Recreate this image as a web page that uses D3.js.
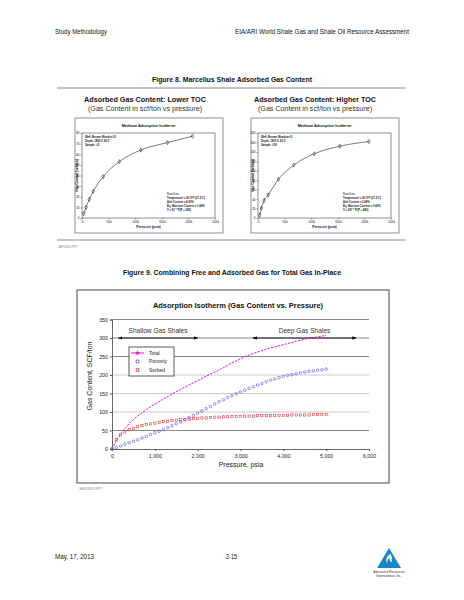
<!DOCTYPE html>
<html>
<head>
<meta charset="utf-8">
<script src="https://cdn.jsdelivr.net/npm/d3@7"></script>
<style>
  body { margin: 0; background: #fff; }
  svg { display: block; font-family: "Liberation Sans", Arial, sans-serif; }
</style>
</head>
<body>
<div id="chartgoeshere"></div>
<script>
// ---------- Figure 8 data (two measured isotherms) ----------
var lowTocPressure = [31, 75, 137, 212, 400, 700, 1106, 1606, 2075];
var lowTocContent = [4, 10, 17.5, 25, 39, 53, 64, 71, 77];
var highTocPressure = [32, 64, 115, 192, 385, 673, 1058, 1538, 2083];
var highTocContent = [6, 21, 37, 49, 82, 112, 136, 152, 162];
var smallXTicks = [0, 500, 1000, 1500, 2000, 2500];
var lowYTicks = [0, 10, 20, 30, 40, 50, 60, 70, 80];
var highYTicks = [0, 20, 40, 60, 80, 100, 120, 140, 160, 180];

// ---------- Figure 9 data (gas content vs pressure) ----------
var pressure = [0, 100, 200, 300, 400, 500, 600, 700, 800, 900,
  1000, 1100, 1200, 1300, 1400, 1500, 1600, 1700, 1800, 1900,
  2000, 2100, 2200, 2300, 2400, 2500, 2600, 2700, 2800, 2900,
  3000, 3100, 3200, 3300, 3400, 3500, 3600, 3700, 3800, 3900,
  4000, 4100, 4200, 4300, 4400, 4500, 4600, 4700, 4800, 4900, 5000];
var total = [0, 22, 40, 55, 68, 80, 89, 98, 106, 114,
  121, 128, 135, 142, 148, 155, 161, 167, 173, 179,
  185, 191, 197, 203, 208, 214, 220, 226, 233, 238,
  244, 249, 254, 258, 262, 266, 270, 273, 276, 279,
  282, 285, 288, 291, 294, 297, 299, 301, 303, 305, 307];
var porosity = [0, 4, 8, 13, 17, 21, 25, 30, 34, 39,
  44, 48, 53, 58, 63, 68, 73, 79, 85, 91,
  97, 103, 109, 115, 122, 128, 133, 139, 144, 149,
  154, 159, 164, 168, 173, 177, 182, 186, 189, 193,
  196, 199, 201, 203, 206, 208, 210, 211, 213, 214, 216];
var sorbed = [0, 25, 38, 46, 52, 56, 60, 63, 66, 68,
  70, 72, 74, 75, 77, 78, 79, 80, 81, 82,
  83, 84, 84, 85, 86, 86, 87, 87, 88, 88,
  88, 89, 89, 89, 90, 90, 90, 90, 91, 91,
  91, 91, 92, 92, 92, 92, 92, 93, 93, 93, 93];
var xTicks = [0, 1000, 2000, 3000, 4000, 5000, 6000];
var yTicks = [0, 50, 100, 150, 200, 250, 300, 350];
var zoneLabels = ["Shallow Gas Shales", "Deep Gas Shales"];
var zoneStart = [150, 3290];
var zoneEnd = [2000, 5700];
var zoneLevel = 300;
var legendLabels = ["Total", "Porosity", "Sorbed"];

var svg = d3.select("#chartgoeshere")
  .append("svg")
  .attr("width", 464)
  .attr("height", 600);

// helper for plain text
function label(x, y, txt, size, opts) {
  opts = opts || {};
  var t = svg.append("text")
    .attr("x", x)
    .attr("y", y)
    .attr("font-size", size)
    .attr("fill", opts.fill || "#111")
    .attr("font-weight", opts.bold ? "bold" : null)
    .attr("text-anchor", opts.anchor || "start")
    .text(txt);
  if (opts.len) t.attr("textLength", opts.len).attr("lengthAdjust", "spacingAndGlyphs");
  return t;
}

// ---------- page header ----------
label(55, 34, "Study Methodology", 6.5, { len: 52 });
label(235, 34, "EIA/ARI World Shale Gas and Shale Oil Resource Assessment", 6.5, { len: 174 });

// ---------- Figure 8 ----------
label(232, 82, "Figure 8.  Marcellus Shale Adsorbed Gas Content", 7, { bold: true, anchor: "middle", len: 160 });
[88, 240].forEach(function (yy) {
  svg.append("line")
    .attr("x1", 57).attr("x2", 405)
    .attr("y1", yy).attr("y2", yy)
    .attr("stroke", "#b0b0b0")
    .attr("stroke-width", 1.3);
});
label(58, 248, "JAF0830.PPT", 3.2, { fill: "#888" });

function isothermPanel(cx, boxX, title, info, rawInfo, pData, vData, yTickVals, yMax) {
  label(cx, 102, "Adsorbed Gas Content: " + title, 8, { bold: true, anchor: "middle", len: 122 });
  label(cx, 111, "(Gas Content in scf/ton vs pressure)", 7, { anchor: "middle", len: 114, fill: "#333" });

  var box = { x: boxX, y: 118, w: 148, h: 115 };
  svg.append("rect")
    .attr("x", box.x).attr("y", box.y)
    .attr("width", box.w).attr("height", box.h)
    .attr("fill", "#fff")
    .attr("stroke", "#444")
    .attr("stroke-width", 0.6);

  var px0 = box.x + 7, px1 = box.x + 140, py0 = 218, py1 = 133;
  var sx = d3.scaleLinear().domain([0, 2500]).range([px0, px1]);
  var sy = d3.scaleLinear().domain([0, yMax]).range([py0, py1]);

  label((px0 + px1) / 2, 127, "Methane Adsorption Isotherm", 3.8, { bold: true, anchor: "middle" });

  var g = svg.append("g").attr("font-size", 3);
  g.append("rect")
    .attr("x", px0).attr("y", py1)
    .attr("width", px1 - px0).attr("height", py0 - py1)
    .attr("fill", "none")
    .attr("stroke", "#222")
    .attr("stroke-width", 0.5);

  g.append("g")
    .attr("transform", "translate(0," + py0 + ")")
    .call(d3.axisBottom(sx).tickValues(smallXTicks).tickSize(1.5).tickPadding(1.5).tickFormat(d3.format("d")))
    .call(function (a) { a.select(".domain").remove(); a.selectAll("line").attr("stroke-width", 0.4); a.selectAll("text").attr("font-size", 3); });
  g.append("g")
    .attr("transform", "translate(" + px0 + ",0)")
    .call(d3.axisLeft(sy).tickValues(yTickVals).tickSize(1.5).tickPadding(1).tickFormat(d3.format("d")))
    .call(function (a) { a.select(".domain").remove(); a.selectAll("line").attr("stroke-width", 0.4); a.selectAll("text").attr("font-size", 3); });

  label((px0 + px1) / 2, 228, "Pressure (psia)", 3.4, { bold: true, anchor: "middle" });
  svg.append("text")
    .attr("transform", "translate(" + (box.x + 2.5) + "," + ((py0 + py1) / 2) + ") rotate(-90)")
    .attr("text-anchor", "middle")
    .attr("font-size", 3.2)
    .attr("font-weight", "bold")
    .text("Gas Content (scf/ton)");

  // well notes
  info.forEach(function (t, i) {
    label(px0 + 3, 138 + i * 3.8, t, 2.7, { bold: true });
  });
  rawInfo.forEach(function (t, i) {
    label(px1 - 48, 195 + i * 3.9, t, 2.7, { bold: i > 0 });
  });

  var pts = pData.map(function (p, i) { return [p, vData[i]]; });
  svg.append("path")
    .datum(pts)
    .attr("fill", "none")
    .attr("stroke", "#222")
    .attr("stroke-width", 0.6)
    .attr("d", d3.line()
      .x(function (d) { return sx(d[0]); })
      .y(function (d) { return sy(d[1]); })
      .curve(d3.curveMonotoneX));
  svg.selectAll(null)
    .data(pts)
    .enter()
    .append("path")
    .attr("transform", function (d) { return "translate(" + sx(d[0]) + "," + sy(d[1]) + ")"; })
    .attr("d", d3.symbol(d3.symbolDiamond, 5))
    .attr("fill", "none")
    .attr("stroke", "#111")
    .attr("stroke-width", 0.5);
}

isothermPanel(145, 75, "Lower TOC",
  ["Well: Brower Mandrel #1", "Depth: 1892.0'-83.0'", "Sample: #3"],
  ["Raw Data", "Temperature = 81.0\u00b0F (27.2\u00b0C)", "Ash Content = 8.00%", "Eq. Moisture Content = 1.68%", "V = 91 * P/(P + 545)"],
  lowTocPressure, lowTocContent, lowYTicks, 80);
isothermPanel(315, 251, "Higher TOC",
  ["Well: Brower Meadow #1", "Depth: 1900.0'-81.0'", "Sample: #18"],
  ["Raw Data", "Temperature = 81.0\u00b0F (27.2\u00b0C)", "Ash Content = 5.68%", "Eq. Moisture Content = 0.83%", "V = 207 * P/(P + 880)"],
  highTocPressure, highTocContent, highYTicks, 180);

// ---------- Figure 9 ----------
label(232, 275, "Figure 9.  Combining Free and Adsorbed Gas for Total Gas In-Place", 7, { bold: true, anchor: "middle", len: 218 });

svg.append("rect")
  .attr("x", 77).attr("y", 290)
  .attr("width", 312).attr("height", 193)
  .attr("fill", "#fff")
  .attr("stroke", "#333")
  .attr("stroke-width", 0.9);

label(238, 308, "Adsorption Isotherm (Gas Content vs. Pressure)", 8, { bold: true, anchor: "middle", len: 170 });

var x = d3.scaleLinear().domain([0, 6000]).range([112, 369]);
var y = d3.scaleLinear().domain([0, 350]).range([449, 319.5]);

// gridlines
svg.append("g")
  .selectAll("line")
  .data(yTicks.slice(1))
  .enter()
  .append("line")
  .attr("x1", x(0)).attr("x2", x(6000))
  .attr("y1", function (d) { return y(d); })
  .attr("y2", function (d) { return y(d); })
  .attr("stroke", function (d) { return (d >= 100 && d <= 200) ? "#c4c4c4" : "#7a7a7a"; })
  .attr("stroke-width", 0.9);

// axes
var xAxis = svg.append("g")
  .attr("transform", "translate(0," + y(0) + ")")
  .call(d3.axisBottom(x).tickValues(xTicks).tickSize(2).tickPadding(3).tickFormat(d3.format(",")));
var yAxis = svg.append("g")
  .attr("transform", "translate(" + x(0) + ",0)")
  .call(d3.axisLeft(y).tickValues(yTicks).tickSize(2).tickPadding(2));
[xAxis, yAxis].forEach(function (a) {
  a.select(".domain").attr("stroke", "#555").attr("stroke-width", 0.9);
  a.selectAll("line").attr("stroke", "#555");
  a.selectAll("text").attr("font-size", 5.3).attr("fill", "#222");
});

label(241, 467, "Pressure, psia", 7, { anchor: "middle", fill: "#222" });
svg.append("text")
  .attr("transform", "translate(92,376) rotate(-90)")
  .attr("text-anchor", "middle")
  .attr("font-size", 7)
  .attr("fill", "#222")
  .text("Gas Content, SCF/ton");

// shale zone arrows
var defs = svg.append("defs");
defs.append("marker")
  .attr("id", "arrowhead")
  .attr("viewBox", "0 0 10 10")
  .attr("refX", 9).attr("refY", 5)
  .attr("markerWidth", 4).attr("markerHeight", 4)
  .attr("orient", "auto-start-reverse")
  .append("path")
  .attr("d", "M0,1 L10,5 L0,9 Z")
  .attr("fill", "#111");

zoneLabels.forEach(function (name, i) {
  svg.append("line")
    .attr("x1", x(zoneStart[i])).attr("x2", x(zoneEnd[i]))
    .attr("y1", y(zoneLevel)).attr("y2", y(zoneLevel))
    .attr("stroke", "#222")
    .attr("stroke-width", 1.1)
    .attr("marker-start", "url(#arrowhead)")
    .attr("marker-end", "url(#arrowhead)");
  label(x((zoneStart[i] + zoneEnd[i]) / 2), y(zoneLevel) - 5, name, 6.6, { anchor: "middle", fill: "#333" });
});

// series
var rows = pressure.map(function (p, i) {
  return { p: p, total: total[i], porosity: porosity[i], sorbed: sorbed[i] };
});

svg.append("path")
  .datum(rows)
  .attr("fill", "none")
  .attr("stroke", "#ee00ee")
  .attr("stroke-width", 1)
  .attr("stroke-dasharray", "2.2,1.3")
  .attr("d", d3.line()
    .x(function (d) { return x(d.p); })
    .y(function (d) { return y(d.total); }));

svg.append("g")
  .selectAll("rect")
  .data(rows)
  .enter()
  .append("rect")
  .attr("x", function (d) { return x(d.p) - 1.1; })
  .attr("y", function (d) { return y(d.sorbed) - 1.1; })
  .attr("width", 2.2).attr("height", 2.2)
  .attr("fill", "none")
  .attr("stroke", "#e23a3a")
  .attr("stroke-width", 0.6);

svg.append("g")
  .selectAll("circle")
  .data(rows)
  .enter()
  .append("circle")
  .attr("cx", function (d) { return x(d.p); })
  .attr("cy", function (d) { return y(d.porosity); })
  .attr("r", 1.3)
  .attr("fill", "none")
  .attr("stroke", "#4a4ae8")
  .attr("stroke-width", 0.6);

// legend
var legend = svg.append("g").attr("transform", "translate(129,347)");
legend.append("rect")
  .attr("width", 45).attr("height", 29)
  .attr("fill", "#fff")
  .attr("stroke", "#333")
  .attr("stroke-width", 0.8);
legendLabels.forEach(function (name, i) {
  var ly = 6 + i * 8.5;
  if (name === "Total") {
    legend.append("line")
      .attr("x1", 2).attr("x2", 15)
      .attr("y1", ly).attr("y2", ly)
      .attr("stroke", "#ee00ee").attr("stroke-width", 1);
    legend.append("path")
      .attr("transform", "translate(8.5," + ly + ")")
      .attr("d", d3.symbol(d3.symbolStar, 9))
      .attr("fill", "#ee1188");
  } else if (name === "Porosity") {
    legend.append("circle")
      .attr("cx", 8.5).attr("cy", ly).attr("r", 1.6)
      .attr("fill", "none").attr("stroke", "#3a3ae0").attr("stroke-width", 0.8);
  } else {
    legend.append("rect")
      .attr("x", 7.2).attr("y", ly - 1.3).attr("width", 2.6).attr("height", 2.6)
      .attr("fill", "none").attr("stroke", "#e23a3a").attr("stroke-width", 0.8);
  }
  legend.append("text")
    .attr("x", 20).attr("y", ly + 1.8)
    .attr("font-size", 5)
    .attr("fill", "#222")
    .text(name);
});

label(79, 490, "JAF028263.PPT", 3.2, { fill: "#888" });

// ---------- footer ----------
label(55, 559, "May, 17, 2013", 6.5, { len: 39 });
label(226, 559, "2-15", 6.5, { len: 11 });

var logo = svg.append("g").attr("transform", "translate(389,548)");
logo.append("path")
  .attr("d", "M0,0 L12,20 L-12,20 Z")
  .attr("fill", "#1b86c9");
logo.append("path")
  .attr("d", "M1,6 C-3,9 -4,13 -1,16 C-3,13 -1,11 1,10 C0,12 1,14 3,14 C2,11 4,9 1,6 Z")
  .attr("fill", "#fff");
label(389, 573, "Advanced Resources", 3.3, { anchor: "middle", fill: "#334" });
label(389, 577, "International, Inc.", 3.3, { anchor: "middle", fill: "#334" });
</script>
</body>
</html>
